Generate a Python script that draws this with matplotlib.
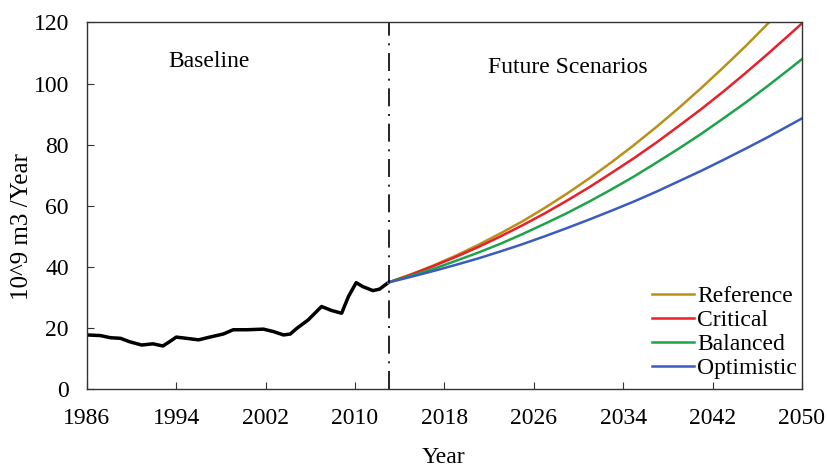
import matplotlib
matplotlib.use("Agg")
import matplotlib.pyplot as plt

plt.rcParams['font.family'] = ['Liberation Serif', 'DejaVu Serif']

# historical water use (read at irregular dates)
base_years = [1986.0, 1987.2, 1988.1, 1989.0, 1989.8, 1990.9, 1991.9, 1992.8,
              1993.4, 1994.0, 1994.9, 1996.0, 1997.0, 1998.2, 1999.1, 2000.3,
              2001.8, 2002.7, 2003.6, 2004.2, 2004.8, 2005.8, 2007.0, 2007.9,
              2008.8, 2009.4, 2010.1, 2010.7, 2011.6, 2012.2, 2013.0]
base_vals = [17.8, 17.6, 16.9, 16.7, 15.6, 14.5, 14.9, 14.2,
             15.6, 17.1, 16.7, 16.2, 17.1, 18.1, 19.5, 19.5,
             19.7, 18.9, 17.8, 18.1, 20.0, 22.7, 27.1, 25.8,
             24.9, 30.3, 34.9, 33.6, 32.3, 32.8, 35.0]

# scenario projections, every two years from 2013
fut_years = [2013, 2015, 2017, 2019, 2021, 2023, 2025, 2027, 2029, 2031,
             2033, 2035, 2037, 2039, 2041, 2043, 2045, 2047, 2049, 2050]
reference = [35.0, 37.6, 40.5, 43.7, 47.2, 51.0, 55.0, 59.4, 64.1, 69.1,
             74.4, 80.0, 85.9, 92.1, 98.6, 105.4, 112.4, 119.8, 127.5, 131.4]
critical = [35.0, 37.5, 40.3, 43.3, 46.5, 50.0, 53.7, 57.6, 61.8, 66.2,
            70.9, 75.7, 80.8, 86.2, 91.7, 97.5, 103.6, 109.9, 116.4, 119.7]
balanced = [35.0, 37.1, 39.4, 42.0, 44.7, 47.6, 50.8, 54.2, 57.7, 61.5,
            65.5, 69.7, 74.2, 78.8, 83.6, 88.7, 93.9, 99.4, 105.1, 108.0]
optimistic = [35.0, 36.8, 38.7, 40.7, 42.8, 45.1, 47.5, 50.1, 52.8, 55.6,
              58.5, 61.5, 64.7, 68.1, 71.5, 75.1, 78.8, 82.6, 86.6, 88.6]

xticks = [1986, 1994, 2002, 2010, 2018, 2026, 2034, 2042, 2050]
yticks = [0, 20, 40, 60, 80, 100, 120]

fig = plt.figure(figsize=(8.28, 4.68), dpi=100)
ax = fig.add_axes([0.105, 0.168, 0.8635, 0.784])

ax.plot(base_years, base_vals, color='black', lw=2.5, solid_joinstyle='round')
ax.plot(fut_years, reference, color='#B8901A', lw=1.8, label='Reference')
ax.plot(fut_years, critical, color='#E8202A', lw=1.8, label='Critical')
ax.plot(fut_years, balanced, color='#1EA34A', lw=1.8, label='Balanced')
ax.plot(fut_years, optimistic, color='#3C5BC0', lw=1.8, label='Optimistic')

ax.axvline(2013, color='black', lw=1.2, linestyle=(0, (10.8, 4.6, 1.2, 4.6)))

ax.set_xlim(1986, 2050)
ax.set_ylim(0, 120)
ax.set_xticks(xticks)
ax.set_yticks(yticks)
ax.tick_params(direction='in', length=5, labelsize=17, color='#333333')
ax.tick_params(axis='x', pad=13.5)
ax.tick_params(axis='y', pad=13)
for s in ax.spines.values():
    s.set_color('#333333')
    s.set_linewidth(1.0)

ax.text(1996.9, 107.2, 'Baseline', fontsize=17, ha='center', va='center')
ax.text(2029.0, 105.3, 'Future Scenarios', fontsize=17, ha='center', va='center')

ax.set_ylabel('10^9 m3 /Year', fontsize=18)
ax.yaxis.set_label_coords(-0.076, 0.444)
ax.set_xlabel('Year', fontsize=17, va='center')
ax.xaxis.set_label_coords(0.498, -0.186)

ax.legend(loc='lower right', bbox_to_anchor=(0.993, 0.028), frameon=False,
          fontsize=17, borderpad=0, handlelength=1.78, handletextpad=0.13,
          labelspacing=0.1, borderaxespad=0)

fig.savefig('out.png', dpi=100)
